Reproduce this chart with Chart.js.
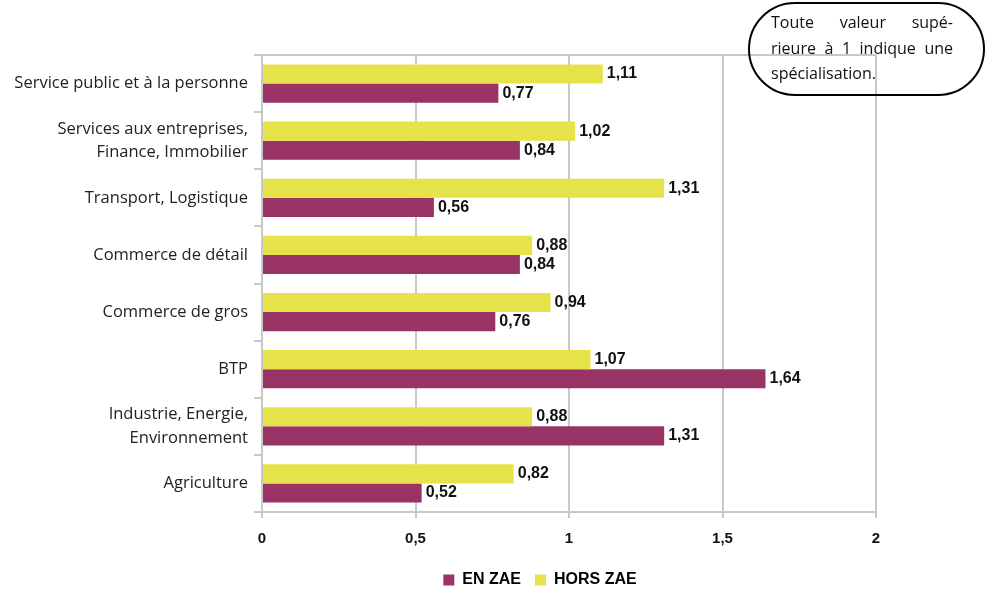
<!DOCTYPE html>
<html>
<head>
<meta charset="utf-8">
<script src="https://cdn.jsdelivr.net/npm/chart.js@4.4.0/dist/chart.umd.min.js"></script>
<style>
  html, body { margin: 0; padding: 0; background: #fff; }
  #wrap { position: relative; width: 988px; height: 590px; overflow: hidden; }
  #c { position: absolute; left: 0; top: 0; }
  #note {
    position: absolute; left: 748px; top: 2px; width: 237px; height: 94px;
    border: 2px solid #000; border-radius: 47px; box-sizing: border-box;
    font-family: "Open Sans", "Noto Sans", sans-serif; font-size: 16px; color: #111;
    padding: 6px 0 0 21px; line-height: 25.5px;
  }
  #note div { width: 182px; }
  #note .j { text-align: justify; text-align-last: justify; }
</style>
</head>
<body>
<div id="wrap">
  <canvas id="c" width="988" height="590"></canvas>
  <div id="note">
    <div class="j">Toute valeur supé-</div>
    <div class="j">rieure à 1 indique une</div>
    <div>spécialisation.</div>
  </div>
</div>
<script>
const categories = [
  "Service public et à la personne",
  ["Services aux entreprises,", "Finance, Immobilier"],
  "Transport, Logistique",
  "Commerce de détail",
  "Commerce de gros",
  "BTP",
  ["Industrie, Energie,", "Environnement"],
  "Agriculture"
];
const seriesNames = ["HORS ZAE", "EN ZAE"];
const horsZae = [1.11, 1.02, 1.31, 0.88, 0.94, 1.07, 0.88, 0.82];
const enZae   = [0.77, 0.84, 0.56, 0.84, 0.76, 1.64, 1.31, 0.52];
const xTicks = [0, 0.5, 1, 1.5, 2];

const fmt = v => String(v).replace('.', ',');
const fmt2 = v => v.toFixed(2).replace('.', ',');

const GRID = '#c8c8c8';

const valueLabels = {
  id: 'valueLabels',
  afterDatasetsDraw(chart) {
    const ctx = chart.ctx;
    ctx.save();
    ctx.font = 'bold 16px "Liberation Sans", Arial, sans-serif';
    ctx.fillStyle = '#111';
    ctx.textAlign = 'left';
    ctx.textBaseline = 'middle';
    chart.data.datasets.forEach((ds, di) => {
      const meta = chart.getDatasetMeta(di);
      meta.data.forEach((el, i) => {
        ctx.fillText(fmt2(ds.data[i]), el.x + 4, el.y);
      });
    });
    ctx.restore();
  }
};

const shiftLegend = {
  id: 'shiftLegend',
  afterLayout(chart) {
    const lg = chart.legend;
    if (lg) { lg.left += 102; lg.right += 102; lg.top += 8; lg.bottom += 8; }
  }
};

new Chart(document.getElementById('c'), {
  type: 'bar',
  data: {
    labels: categories,
    datasets: [
      { label: seriesNames[0], data: horsZae, backgroundColor: '#E6E34A', barPercentage: 1.0, categoryPercentage: 0.67 },
      { label: seriesNames[1], data: enZae,   backgroundColor: '#993366', barPercentage: 1.0, categoryPercentage: 0.67 }
    ]
  },
  options: {
    indexAxis: 'y',
    responsive: false,
    animation: false,
    devicePixelRatio: 1,
    layout: { padding: { left: 0, right: 112, top: 55, bottom: 0 } },
    scales: {
      x: {
        min: 0, max: 2,
        afterBuildTicks(scale) { scale.ticks = xTicks.map(v => ({ value: v })); },
        afterFit(scale) { scale.height = 38; },
        grid: { color: GRID, lineWidth: 2, tickLength: 6, tickColor: GRID, drawOnChartArea: true },
        border: { color: GRID, width: 2 },
        ticks: {
          callback: v => fmt(v),
          color: '#111',
          font: { family: '"Liberation Sans", Arial, sans-serif', size: 15, weight: 'bold' },
          padding: 12, maxRotation: 0
        }
      },
      y: {
        afterFit(scale) { scale.width = 262; },
        grid: {
          color: c => (c.index === 0 ? GRID : 'rgba(0,0,0,0)'),
          lineWidth: 2, tickLength: 8, tickColor: GRID, offset: true
        },
        border: { color: GRID, width: 2 },
        ticks: {
          color: '#222',
          font: { family: '"Open Sans", sans-serif', size: 16.5, lineHeight: 1.4 },
          padding: 6
        }
      }
    },
    plugins: {
      legend: {
        position: 'bottom',
        labels: {
          sort: (a, b) => b.datasetIndex - a.datasetIndex,
          boxWidth: 11, boxHeight: 11, padding: 14,
          color: '#000',
          font: { family: '"Liberation Sans", Arial, sans-serif', size: 16, weight: 'bold' }
        }
      },
      tooltip: { enabled: false }
    }
  },
  plugins: [valueLabels, shiftLegend]
});
</script>
</body>
</html>
